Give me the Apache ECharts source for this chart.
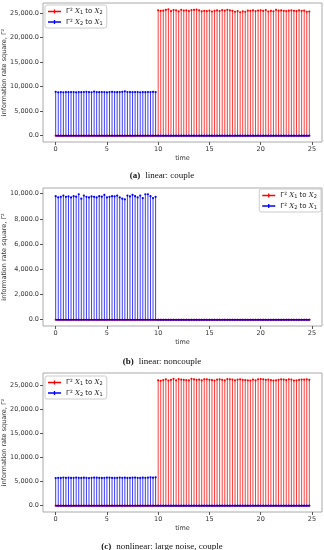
<!DOCTYPE html>
<html><head><meta charset="utf-8">
<script src="https://cdn.jsdelivr.net/npm/echarts@6/dist/echarts.min.js"></script>
<style>html,body{margin:0;padding:0;background:#fff}#c{width:324px;height:550px}</style>
</head><body><div id="c"></div>
<script>
// time grid (s)
const times = [0,0.25,0.5,0.75,1,1.25,1.5,1.75,2,2.25,2.5,2.75,3,3.25,3.5,3.75,4,4.25,4.5,4.75,5,5.25,5.5,5.75,6,6.25,6.5,6.75,7,7.25,7.5,7.75,8,8.25,8.5,8.75,9,9.25,9.5,9.75,
10,10.25,10.5,10.75,11,11.25,11.5,11.75,12,12.25,12.5,12.75,13,13.25,13.5,13.75,14,14.25,14.5,14.75,15,15.25,15.5,15.75,16,16.25,16.5,16.75,17,17.25,17.5,17.75,18,18.25,18.5,18.75,19,19.25,19.5,19.75,20,20.25,20.5,20.75,21,21.25,21.5,21.75,22,22.25,22.5,22.75,23,23.25,23.5,23.75,24,24.25,24.5,24.75];
const zerosFirst = new Array(40).fill(0);   // t < 10
const zerosSecond = new Array(60).fill(0);  // t >= 10

// (a) linear: couple
const aRedLate = [25600,25500,25550,25700,25800,25450,25650,25600,25400,25700,25550,25600,25450,25650,25700,25750,25600,25400,25500,25450,25550,25350,25500,25600,25450,25650,25550,25700,25600,25500,25300,25450,25200,25400,25300,25550,25500,25600,25450,25550,25600,25500,25650,25350,25500,25400,25700,25550,25600,25500,25450,25550,25600,25500,25450,25600,25500,25550,25300,25350];
const aBlueEarly = [8950,8850,8900,8870,8900,8880,8920,8900,8860,8900,8880,8920,8950,8900,8870,9000,8900,8880,8920,8900,8860,8900,8950,8920,8880,8900,8950,9050,8920,8900,8880,8920,8900,8870,8900,8880,8920,8900,8950,8900];
// (b) linear: noncouple
const bBlueEarly = [9800,9700,9750,9850,9750,9780,9700,9800,9760,9950,9600,9850,9750,9700,9780,9750,9700,9800,9760,9900,9700,9750,9800,9780,9850,9700,9600,9550,9850,9780,9900,9800,9700,9850,9650,9950,9950,9800,9650,9750];
// (c) nonlinear: large noise, couple
const cRedLate = [26100,26000,26150,26300,26050,26200,26400,26100,26350,26250,26200,26150,26100,26400,26300,26200,26250,26100,26300,26300,26200,26150,26050,26250,26300,26200,26100,26350,26300,26250,26100,26250,26300,26200,26150,26100,26050,26250,26100,26300,26350,26300,26200,26250,26150,26050,26100,26200,26300,26250,26150,26300,26250,26050,26100,26200,26250,26250,26300,26200];
const cBlueEarly = [5750,5800,5780,5850,5800,5820,5780,5800,5850,5800,5780,5820,5800,5760,5800,5850,5820,5800,5780,5800,5850,5820,5800,5780,5800,5850,5800,5820,5780,5800,5820,5850,5800,5780,5820,5800,5850,5880,5820,5900];

const aRed = zerosFirst.concat(aRedLate), aBlue = aBlueEarly.concat(zerosSecond);
const bRed = zerosFirst.concat(zerosSecond), bBlue = bBlueEarly.concat(zerosSecond);
const cRed = zerosFirst.concat(cRedLate), cBlue = cBlueEarly.concat(zerosSecond);

const xTicks = [0,5,10,15,20,25];
const yTicksA = [0,5000,10000,15000,20000,25000];
const yTicksB = [0,2000,4000,6000,8000,10000];
const yTicksC = [0,5000,10000,15000,20000,25000];
const captions = [['(a)','linear: couple'],['(b)','linear: noncouple'],['(c)','nonlinear: large noise, couple']];
const RED = 'Γ² X1 to X2', BLUE = 'Γ² X2 to X1';
const yName = 'information rate square, Γ²';

const RC = '#ff0000', BC = '#0000ff';
const grids = [
  {left:43, right:2, top:3, height:139},
  {left:43, right:2, top:188, height:138},
  {left:43, right:2, top:373, height:139}
];
const yRanges = [[-1290,27090],[-497,10447],[-1315,27615]];
const yTicks = [yTicksA, yTicksB, yTicksC];
const dataSets = [[aRed,aBlue],[bRed,bBlue],[cRed,cBlue]];

function fmt(v){return v.toLocaleString('en-US',{minimumFractionDigits:1,maximumFractionDigits:1});}
function stemSeries(name, color, vals, gi){
  return {
    type:'custom', name:name, xAxisIndex:gi, yAxisIndex:gi,
    itemStyle:{color:color},
    data: times.map((t,i)=>[t, vals[i]]),
    renderItem:function(params, api){
      const t=api.value(0), v=api.value(1);
      const p0=api.coord([t,0]), p1=api.coord([t,v]);
      return {type:'group', children:[
        {type:'line', shape:{x1:p0[0],y1:p0[1],x2:p1[0],y2:p1[1]}, style:{stroke:color, lineWidth:0.9, opacity:0.85}},
        {type:'circle', shape:{cx:p1[0],cy:p1[1],r:1.1}, style:{fill:color}}
      ]};
    }
  };
}
function baseSeries(color, gi){
  return {type:'line', name:'base'+gi+color, xAxisIndex:gi, yAxisIndex:gi, showSymbol:false, silent:true,
    data:[[times[0],0],[times[times.length-1],0]], lineStyle:{color:color, width:1.6}};
}
const xAxes=[], yAxes=[], series=[];
for(let g=0; g<3; g++){
  xAxes.push({type:'value', gridIndex:g, min:-1.2375, max:25.9875, position:'bottom',
    axisLine:{show:false, onZero:false}, splitLine:{show:false},
    axisTick:{show:true, inside:false, length:3, lineStyle:{color:'#555'}, customValues:xTicks},
    axisLabel:{customValues:xTicks, fontSize:6.5, color:'#333', margin:4, fontFamily:'DejaVu Sans'},
    name:'time', nameLocation:'middle', nameGap:13, nameMoveOverlap:false, nameTextStyle:{fontSize:6.5, color:'#333', fontFamily:'DejaVu Sans'}});
  yAxes.push({type:'value', gridIndex:g, min:yRanges[g][0], max:yRanges[g][1], position:'left',
    axisLine:{show:false, onZero:false}, splitLine:{show:false},
    axisTick:{show:true, inside:false, length:3, lineStyle:{color:'#555'}, customValues:yTicks[g]},
    axisLabel:{customValues:yTicks[g], fontSize:6.5, color:'#333', margin:4, formatter:fmt, fontFamily:'DejaVu Sans'},
    name:yName, nameLocation:'middle', nameGap:35, nameMoveOverlap:false, nameTextStyle:{fontSize:6.5, color:'#333', fontFamily:'DejaVu Sans'}});
  series.push(stemSeries(RED, RC, dataSets[g][0], g));
  series.push(baseSeries(RC, g));
  series.push(stemSeries(BLUE, BC, dataSets[g][1], g));
  series.push(baseSeries(BC, g));
}
const ICON = 'path://M0,4.5H20V5.5H0Z M9,3.6H11V6.4H9Z';
const legendText = {fontSize:7, color:'#222', fontFamily:'DejaVu Sans',
  rich:{n:{fontSize:7,color:'#222',fontFamily:'DejaVu Sans'}, i:{fontSize:7,fontStyle:'italic',color:'#222',fontFamily:'DejaVu Serif'}, s:{fontSize:5,color:'#222',padding:[3,0,0,0],fontFamily:'DejaVu Sans'}}};
function legendFmt(name){
  const a = name.indexOf('X1')===3 ? ['1','2'] : ['2','1'];
  return '{n|Γ² }{i|X}{s|'+a[0]+'}{n| to }{i|X}{s|'+a[1]+'}';
}
function legend(pos){
  return Object.assign({orient:'vertical', itemGap:3, itemWidth:13, itemHeight:4, symbolKeepAspect:false,
    padding:[3,4,2,3], backgroundColor:'#fff', borderColor:'#ccc', borderWidth:1, borderRadius:2,
    textStyle:legendText, formatter:legendFmt, selectedMode:false,
    data:[{name:RED, icon:ICON},{name:BLUE, icon:ICON}]}, pos);
}
const titles = captions.map((c,i)=>({left:'center', top:[167,353,538][i], padding:0,
  text:'{b|'+c[0]+'} {r|'+c[1]+'}',
  textStyle:{fontWeight:'normal', rich:{b:{fontSize:9,fontWeight:'bold',fontFamily:'Liberation Serif',color:'#111'}, r:{fontSize:9,fontWeight:'normal',fontFamily:'Liberation Serif',color:'#111'}}}}));

const chart = echarts.init(document.getElementById('c'), null, {renderer:'canvas'});
chart.setOption({
  animation:false,
  title:titles,
  grid:grids.map(g=>Object.assign({show:true, borderColor:'#aaa', borderWidth:1, backgroundColor:'transparent', containLabel:false, outerBoundsMode:'none'}, g)),
  xAxis:xAxes, yAxis:yAxes,
  legend:[legend({left:45, top:5}), legend({right:3, top:189}), legend({left:45, top:376})],
  series:series
});
</script></body></html>
